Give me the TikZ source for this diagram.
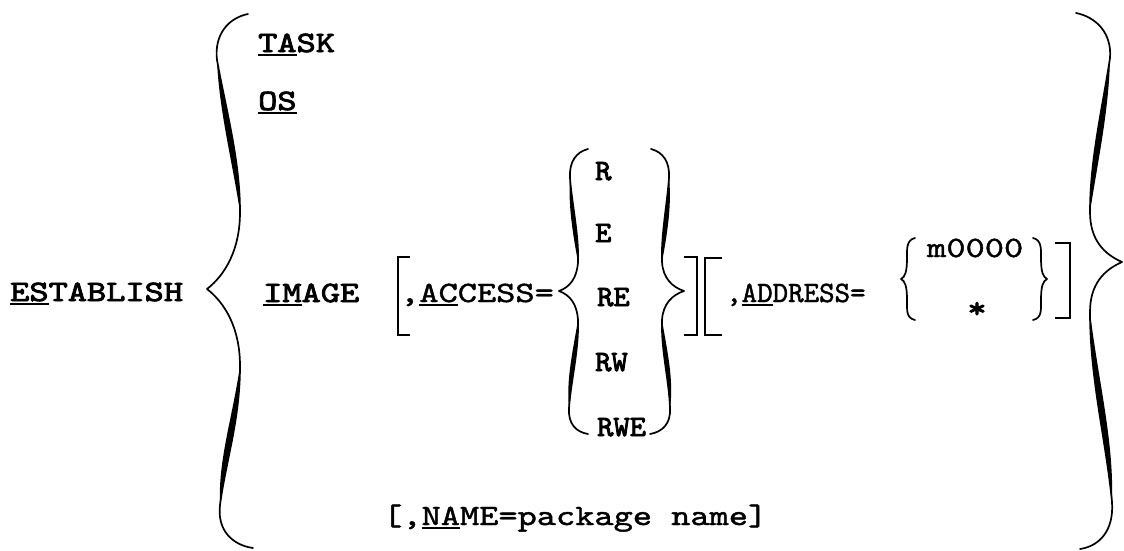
\documentclass[tikz,border=0pt]{standalone}
\usepackage{fontspec}
\usepackage{graphicx}
\newfontfamily\twr[FakeBold=1.5,FakeStretch=1.24]{lmmono10-regular.otf}
\newfontfamily\twb[FakeBold=3,FakeStretch=1.24]{lmmono10-regular.otf}
\newfontfamily\twn[FakeBold=3,FakeStretch=1.05]{lmmono10-regular.otf}
\newfontfamily\twa[FakeBold=1.5]{lmmono10-regular.otf}
\newcommand\uln[1]{\setbox0\hbox{#1}\rlap{\rule[-3.5pt]{\wd0}{2pt}}\box0}
\tikzset{
  txt/.style={inner sep=0pt, anchor=base west, font=\fontsize{29.5}{36}\twr},
  btxt/.style={txt, font=\fontsize{29.5}{36}\twb},
  ntxt/.style={txt, font=\fontsize{29.5}{36}\twn},
  pen/.style={line width=1.7pt, line cap=round, line join=round},
  brk/.style={line width=2.6pt, line cap=butt, line join=miter}
}
\begin{document}
\begin{tikzpicture}[x=1pt,y=-1pt]
\useasboundingbox (0,0) rectangle (1124,550);
% texts
\node[btxt] (establish) at (10,301) {\uln{ES}TABLISH};
\node[btxt] (task) at (258,52) {\uln{TA}SK};
\node[btxt] (os) at (258,110) {\uln{OS}};
\node[btxt] (image) at (263,302) {\uln{IM}AGE};
\node[txt] (access) at (400,302) {,\uln{AC}CESS=};
\node[ntxt] (r) at (595,180) {R};
\node[ntxt] (e) at (595,242) {E};
\node[ntxt] (re) at (597,306) {RE};
\node[ntxt] (rw) at (595,371) {RW};
\node[ntxt] (rwe) at (597,436) {RWE};
\node[txt, font=\fontsize{29.5}{36}\twa] (address) at (726,302) {,\uln{AD}DRESS=};
\node[txt] (m) at (927,257) {m0000};
\node[btxt, anchor=center] (star) at (977,310) {*};
\node[txt] (name) at (383,525) {[,\uln{NA}ME=package name]};
% big left brace
\draw[pen] (248,14) .. controls (228,18) and (214,35) .. (217,60)
  .. controls (226,110) and (240,160) .. (240,212)
  .. controls (240,250) and (225,275) .. (207,289)
  .. controls (225,303) and (240,328) .. (240,366)
  .. controls (240,420) and (226,460) .. (220,505)
  .. controls (217,530) and (232,545) .. (253,548);
\fill (217,60) .. controls (226,110) and (240,160) .. (240,212)
  .. controls (232,160) and (219,110) .. (217,60) -- cycle;
\fill (240,366) .. controls (240,420) and (226,460) .. (220,505)
  .. controls (218,460) and (232,420) .. (240,366) -- cycle;
% big right brace
\draw[pen] (1076,13) .. controls (1096,17) and (1112,33) .. (1110,58)
  .. controls (1102,110) and (1090,160) .. (1090,212)
  .. controls (1090,240) and (1104,254) .. (1122,262)
  .. controls (1104,270) and (1090,284) .. (1090,312)
  .. controls (1090,380) and (1106,440) .. (1112,502)
  .. controls (1114,530) and (1100,546) .. (1080,549);
\fill (1110,58) .. controls (1102,110) and (1090,160) .. (1090,212)
  .. controls (1098,160) and (1109,110) .. (1110,58) -- cycle;
\fill (1090,312) .. controls (1090,380) and (1106,440) .. (1112,502)
  .. controls (1114,440) and (1098,380) .. (1090,312) -- cycle;
% access braces
\draw[pen] (588,149) .. controls (576,152) and (569,162) .. (570,178)
  .. controls (572,205) and (579,235) .. (578,262)
  .. controls (577,278) and (570,287) .. (559,291)
  .. controls (570,295) and (577,304) .. (578,320)
  .. controls (579,350) and (571,380) .. (569,408)
  .. controls (568,424) and (576,432) .. (588,434);
\fill (570,178) .. controls (572,205) and (579,235) .. (578,262)
  .. controls (573,235) and (568,205) .. (570,178) -- cycle;
\fill (578,320) .. controls (579,350) and (571,380) .. (569,408)
  .. controls (566,380) and (573,350) .. (578,320) -- cycle;
\draw[pen] (651,149) .. controls (663,152) and (670,162) .. (669,178)
  .. controls (667,205) and (661,235) .. (662,262)
  .. controls (663,278) and (672,287) .. (684,291)
  .. controls (672,295) and (663,304) .. (662,320)
  .. controls (661,350) and (669,380) .. (670,408)
  .. controls (671,424) and (662,432) .. (650,434);
\fill (669,178) .. controls (667,205) and (661,235) .. (662,262)
  .. controls (667,235) and (672,205) .. (669,178) -- cycle;
\fill (662,320) .. controls (661,350) and (669,380) .. (670,408)
  .. controls (674,380) and (667,350) .. (662,320) -- cycle;
% small braces
\draw[pen] (915,238) .. controls (906,240) and (907,250) .. (907,258)
  .. controls (907,272) and (905,277) .. (901,279)
  .. controls (905,281) and (907,286) .. (907,300)
  .. controls (907,310) and (906,318) .. (915,320);
\draw[pen] (1033,238) .. controls (1042,240) and (1041,250) .. (1041,258)
  .. controls (1041,272) and (1043,277) .. (1047,279)
  .. controls (1043,281) and (1041,286) .. (1041,300)
  .. controls (1041,310) and (1042,318) .. (1033,320);
% brackets
\draw[brk] (410,257) -- (398,257) -- (398,335) -- (410,335);
\draw[brk] (684,257) -- (697,257) -- (697,335) -- (684,335);
\draw[brk] (722,258) -- (705,258) -- (705,335) -- (722,335);
\draw[brk] (1055,243) -- (1070,243) -- (1070,318) -- (1055,318);
\end{tikzpicture}
\end{document}
